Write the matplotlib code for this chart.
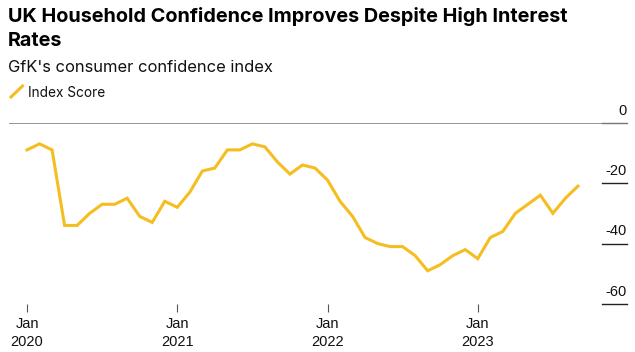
import numpy as np
import matplotlib
matplotlib.use("Agg")
from matplotlib import pyplot as plt
from matplotlib.lines import Line2D

plt.rcParams['font.family'] = ['Inter', 'DejaVu Sans']
tick_font = ['Liberation Sans', 'DejaVu Sans']

# GfK consumer confidence, monthly Jan 2020 - Sep 2023
months = ["2020-01", "2020-02", "2020-03", "2020-04", "2020-05", "2020-06",
          "2020-07", "2020-08", "2020-09", "2020-10", "2020-11", "2020-12",
          "2021-01", "2021-02", "2021-03", "2021-04", "2021-05", "2021-06",
          "2021-07", "2021-08", "2021-09", "2021-10", "2021-11", "2021-12",
          "2022-01", "2022-02", "2022-03", "2022-04", "2022-05", "2022-06",
          "2022-07", "2022-08", "2022-09", "2022-10", "2022-11", "2022-12",
          "2023-01", "2023-02", "2023-03", "2023-04", "2023-05", "2023-06",
          "2023-07", "2023-08", "2023-09"]
score = [-9, -7, -9, -34, -34, -30, -27, -27, -25, -31, -33, -26,
         -28, -23, -16, -15, -9, -9, -7, -8, -13, -17, -14, -15,
         -19, -26, -31, -38, -40, -41, -41, -44, -49, -47, -44, -42,
         -45, -38, -36, -30, -27, -24, -30, -25, -21]
tick_months = ["2020-01", "2021-01", "2022-01", "2023-01"]
tick_labels = ["Jan\n2020", "Jan\n2021", "Jan\n2022", "Jan\n2023"]
y_ticks = [0, -20, -40, -60]

x = np.arange(len(months))
tick_x = [months.index(m) for m in tick_months]

yellow = "#F5BD1F"

fig = plt.figure(figsize=(6.35, 3.52), dpi=100)
ax = fig.add_axes([9/635, 48/352, 618/635, 181.3/352])

ax.plot(x, score, color=yellow, lw=2.2, solid_joinstyle='miter', zorder=3)

ax.set_xlim(-1.44, 47.92)
ax.set_ylim(-60, 0)
for s in ax.spines.values():
    s.set_visible(False)

# zero line across, short rules under the right-side labels
ax.axhline(0, color="#8c8c8c", lw=1.3, zorder=1)
for v in y_ticks:
    ax.plot([0.959, 1.0], [v, v], transform=ax.get_yaxis_transform(),
            color="#222222" if v != 0 else "#777777", lw=1.0, clip_on=False)
    ax.text(1.0, v + 1.7, str(v), transform=ax.get_yaxis_transform(),
            ha="right", va="bottom", fontsize=10.5, color="#111111",
            family=tick_font)
ax.set_yticks([])

ax.set_xticks(tick_x)
ax.set_xticklabels(tick_labels, fontsize=10.5, color="#111111",
                   linespacing=1.4, family=tick_font)
ax.tick_params(axis='x', length=6, width=0.8, color="#555555", pad=3)
for t in ax.xaxis.get_major_ticks():
    t.tick1line.set_marker(matplotlib.markers.TICKDOWN)

fig.text(8/635, 1 - 22/352, "UK Household Confidence Improves Despite High Interest",
         fontsize=14.3, fontweight="bold", ha="left", va="baseline", color="#000000")
fig.text(8/635, 1 - 46/352, "Rates",
         fontsize=14.3, fontweight="bold", ha="left", va="baseline", color="#000000")
fig.text(8/635, 1 - 71.7/352, "GfK's consumer confidence index",
         fontsize=11.9, ha="left", va="baseline", color="#111111")
fig.add_artist(Line2D([11/635, 22.5/635], [1 - 97/352, 1 - 86/352],
                      color=yellow, lw=2.2))
fig.text(28/635, 1 - 96.7/352, "Index Score", fontsize=9.8,
         ha="left", va="baseline", color="#111111")

fig.savefig("out.png", dpi=100, facecolor="white")
